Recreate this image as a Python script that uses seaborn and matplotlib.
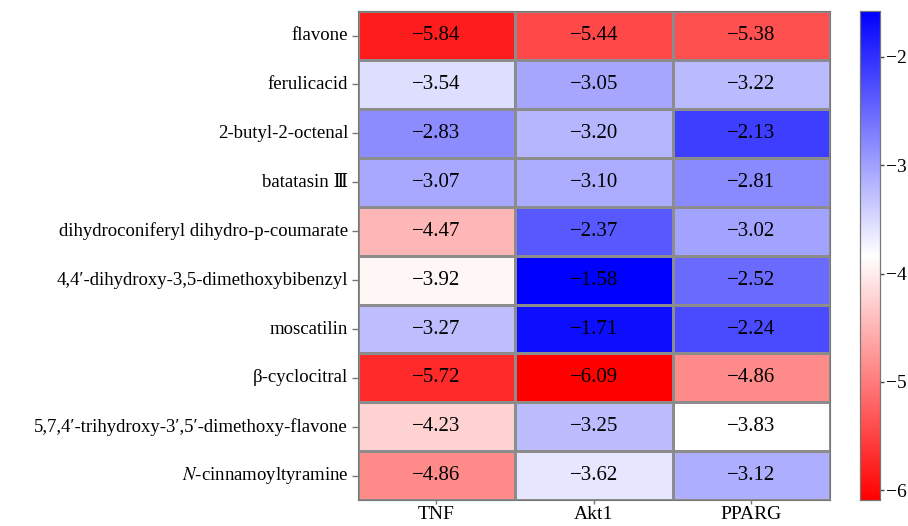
import numpy as np
import pandas as pd
import matplotlib.pyplot as plt
import seaborn as sns
from matplotlib.colors import LinearSegmentedColormap

compounds = ["flavone", "ferulicacid", "2-butyl-2-octenal", "batatasin \u2162",
             "dihydroconiferyl dihydro-p-coumarate",
             "4,4\u2032-dihydroxy-3,5-dimethoxybibenzyl", "moscatilin",
             "\u03b2-cyclocitral",
             "5,7,4\u2032-trihydroxy-3\u2032,5\u2032-dimethoxy-flavone",
             r"$\it{N}$-cinnamoyltyramine"]
targets = ["TNF", "Akt1", "PPARG"]
tnf = [-5.84, -3.54, -2.83, -3.07, -4.47, -3.92, -3.27, -5.72, -4.23, -4.86]
akt1 = [-5.44, -3.05, -3.20, -3.10, -2.37, -1.58, -1.71, -6.09, -3.25, -3.62]
pparg = [-5.38, -3.22, -2.13, -2.81, -3.02, -2.52, -2.24, -4.86, -3.83, -3.12]

sns.set_theme(style="white")
plt.rcParams['font.family'] = ['Liberation Serif', 'DejaVu Serif', 'DejaVu Sans']
plt.rcParams['mathtext.fontset'] = 'stix'
plt.rcParams['axes.unicode_minus'] = True

df = pd.DataFrame({"TNF": tnf, "Akt1": akt1, "PPARG": pparg}, index=compounds)[targets]
labels = df.map(lambda v: f"{v:.2f}".replace("-", "\u2212"))

cmap = LinearSegmentedColormap.from_list("rwb", ["#ff0000", "#ffffff", "#0000ff"])

fig = plt.figure(figsize=(9.08, 5.26), dpi=100)
ax = fig.add_axes([0.394, 0.049, 0.52, 0.93])
cax = fig.add_axes([0.947, 0.049, 0.022, 0.93])
sns.heatmap(df, ax=ax, cbar_ax=cax, cmap=cmap, annot=labels, fmt="",
            vmin=min(df.min()), vmax=max(df.max()),
            linewidths=0.8, linecolor="#8c8c8c",
            annot_kws={"fontsize": 15, "color": "black"})

ax.tick_params(axis="y", length=4, width=1, color="#777777",
               labelsize=13.5, labelcolor="black", left=True, pad=3)
ax.tick_params(axis="x", length=3, width=1, color="#777777",
               labelsize=14, labelcolor="black", bottom=True, pad=1)
ax.set_yticklabels(df.index, rotation=0)
ax.set_xticklabels(targets, rotation=0)
for s in ax.spines.values():
    s.set_visible(True)
    s.set_color("#777777")
    s.set_linewidth(0.8)

cax.tick_params(labelsize=14, labelcolor="black", length=3, width=1,
                color="#444444", pad=1.5)
cax.set_yticks([-2, -3, -4, -5, -6])
for s in cax.spines.values():
    s.set_visible(True)
    s.set_color("#777777")
    s.set_linewidth(0.8)

fig.savefig("out.png", dpi=100)
